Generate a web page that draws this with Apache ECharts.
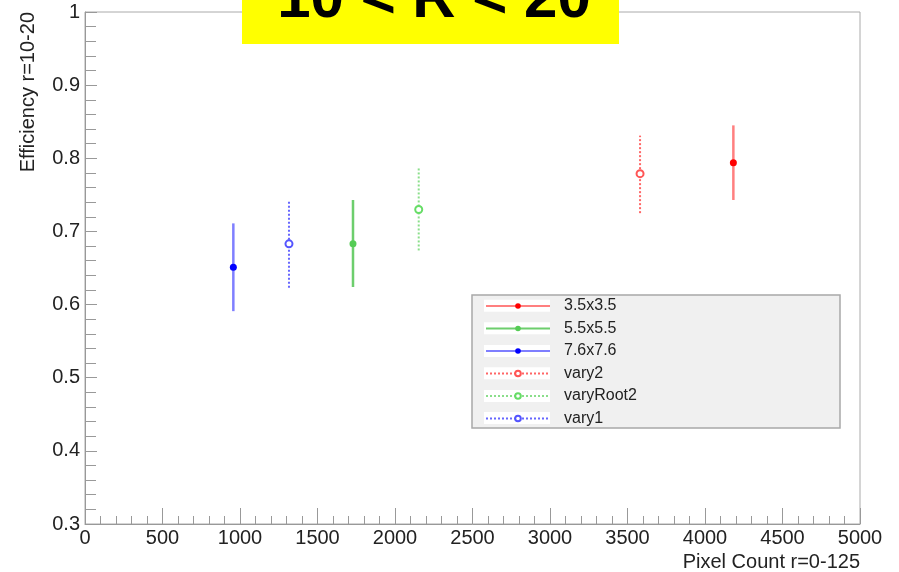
<!DOCTYPE html>
<html>
<head>
<meta charset="utf-8">
<script src="https://cdn.jsdelivr.net/npm/echarts@6/dist/echarts.min.js"></script>
<style>
html,body{margin:0;padding:0;background:#fff;}
#chart{width:899px;height:572px;}
</style>
</head>
<body>
<div id="chart"></div>
<script>
// ---- data ----
const seriesNames = ['3.5x3.5', '5.5x5.5', '7.6x7.6', 'vary2', 'varyRoot2', 'vary1'];
const xValues = [4183, 1729, 957, 3581, 2153, 1316];
const yValues = [0.794, 0.683, 0.651, 0.779, 0.730, 0.683];
const yLow    = [0.743, 0.624, 0.591, 0.725, 0.674, 0.623];
const yHigh   = [0.845, 0.743, 0.711, 0.831, 0.787, 0.743];
const xTitle = 'Pixel Count r=0-125';
const yTitle = 'Efficiency r=10-20';
const titleText = '10 < R < 20';

// ---- styles ----
const markerColors = ['#ff0000', '#55cc55', '#0000ff', '#ff5555', '#66dd66', '#5555ff'];
const lineColors = ['rgba(255,0,0,0.5)', 'rgba(60,190,60,0.75)', 'rgba(0,0,255,0.5)',
                    'rgba(255,0,0,0.6)', 'rgba(60,200,60,0.6)', 'rgba(0,0,255,0.6)'];
const lineTypes = ['solid', 'solid', 'solid', [2, 2], [2, 2], [2, 2]];
const symbols = ['circle', 'circle', 'circle', 'emptyCircle', 'emptyCircle', 'emptyCircle'];

const chart = echarts.init(document.getElementById('chart'), null, {renderer: 'canvas'});

const series = [];
seriesNames.forEach((name, i) => {
  // error bar
  series.push({
    name: name + ' err',
    type: 'custom',
    z: 2,
    silent: true,
    data: [[xValues[i], yLow[i], yHigh[i]]],
    renderItem: function (params, api) {
      const p1 = api.coord([api.value(0), api.value(1)]);
      const p2 = api.coord([api.value(0), api.value(2)]);
      return {
        type: 'line',
        shape: {x1: p1[0], y1: p1[1], x2: p2[0], y2: p2[1]},
        style: {stroke: lineColors[i], lineWidth: i < 3 ? 2.5 : 2, lineDash: lineTypes[i] === 'solid' ? null : lineTypes[i]}
      };
    }
  });
  // point
  series.push({
    name: name,
    type: 'line',
    z: 3,
    data: [[xValues[i], yValues[i]]],
    symbol: symbols[i],
    symbolSize: i < 3 ? 7 : 7,
    itemStyle: {color: markerColors[i], borderWidth: i < 3 ? 0 : 1},
    lineStyle: {color: lineColors[i], width: i < 3 ? 2 : 1.5, type: lineTypes[i]},
    emphasis: {disabled: true},
    animation: false
  });
});

const font = 'Liberation Sans, Arial, Helvetica, sans-serif';
const legendRowY = [305.7, 328.3, 351, 373.3, 396, 418];

const option = {
  animation: false,
  backgroundColor: '#ffffff',
  grid: {left: 85, right: 39, top: 12, bottom: 48, show: true, borderColor: '#aaaaaa', borderWidth: 1, backgroundColor: 'transparent'},
  xAxis: {
    type: 'value', min: 0, max: 5000, interval: 500,
    axisLine: {lineStyle: {color: '#999999', width: 1}},
    axisTick: {inside: true, length: 16, lineStyle: {color: '#999999'}},
    minorTick: {show: true, splitNumber: 5, length: 8, lineStyle: {color: '#999999'}},
    splitLine: {show: false},
    axisLabel: {fontFamily: font, fontSize: 20, color: '#222222', margin: 4, formatter: v => String(v)}
  },
  yAxis: {
    type: 'value', min: 0.3, max: 1, interval: 0.1,
    axisLine: {lineStyle: {color: '#999999', width: 1}},
    axisTick: {inside: true, length: 12, lineStyle: {color: '#999999'}},
    minorTick: {show: true, splitNumber: 5, length: 11, lineStyle: {color: '#999999'}},
    splitLine: {show: false},
    axisLabel: {fontFamily: font, fontSize: 20, color: '#222222', margin: 5}
  },
  legend: {
    data: seriesNames,
    orient: 'vertical',
    left: 472, top: 295,
    padding: [3, 0, 0, 13],
    itemWidth: 64, itemHeight: 7, itemGap: 6.5,
    textStyle: {fontFamily: font, fontSize: 16, color: '#222222', lineHeight: 16, padding: [0, 0, 0, 9]},
    selectedMode: false,
    z: 10
  },
  graphic: [
    // legend box
    {type: 'rect', z: 5, shape: {x: 472, y: 295, width: 368, height: 133},
     style: {fill: '#f0f0f0', stroke: '#a8a8a8', lineWidth: 1.5}},
    ...legendRowY.map(y => ({type: 'rect', z: 6, shape: {x: 484, y: y - 6, width: 66, height: 12}, style: {fill: '#ffffff'}})),
    // title box
    {type: 'rect', z: 20, shape: {x: 242, y: -10, width: 377, height: 54}, style: {fill: '#ffff00'}},
    {type: 'text', z: 21, x: 434, y: 0,
     style: {text: titleText, fontFamily: font, fontWeight: 'bold', fontSize: 60, fill: '#000000', align: 'center', verticalAlign: 'middle'}},
    // axis titles
    {type: 'text', z: 10, x: 860, y: 552,
     style: {text: xTitle, fontFamily: font, fontSize: 20, fill: '#222222', align: 'right', verticalAlign: 'top'}},
    {type: 'text', z: 10, x: 28.5, y: 12, rotation: Math.PI / 2,
     style: {text: yTitle, fontFamily: font, fontSize: 20, fill: '#222222', align: 'right', verticalAlign: 'middle'}}
  ],
  series: series
};
chart.setOption(option);
</script>
</body>
</html>
